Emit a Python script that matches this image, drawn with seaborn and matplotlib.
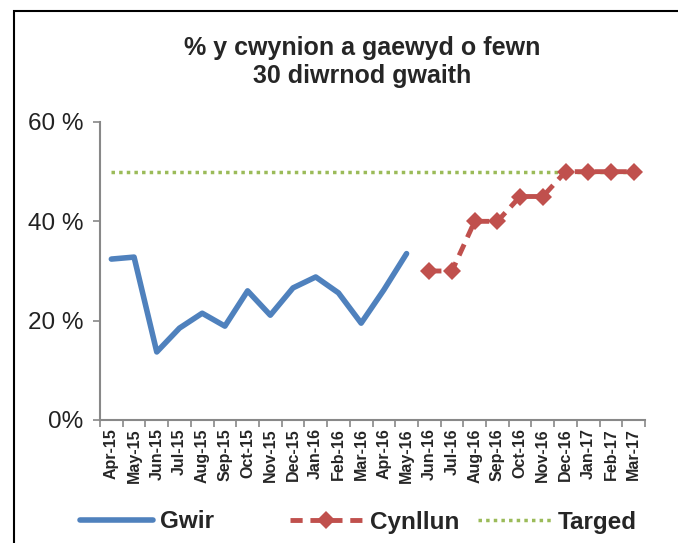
import numpy as np
import pandas as pd
import seaborn as sns
import matplotlib.pyplot as plt
from matplotlib.patches import Rectangle
from matplotlib.ticker import FixedLocator

months = ['Apr-15', 'May-15', 'Jun-15', 'Jul-15', 'Aug-15', 'Sep-15', 'Oct-15',
          'Nov-15', 'Dec-15', 'Jan-16', 'Feb-16', 'Mar-16', 'Apr-16', 'May-16',
          'Jun-16', 'Jul-16', 'Aug-16', 'Sep-16', 'Oct-16', 'Nov-16', 'Dec-16',
          'Jan-17', 'Feb-17', 'Mar-17']
gwir = [0.324, 0.328, 0.137, 0.185, 0.215, 0.189, 0.260, 0.211, 0.266,
        0.288, 0.256, 0.195, 0.262, 0.335]
cynllun = [0.30, 0.30, 0.40, 0.40, 0.45, 0.45, 0.50, 0.50, 0.50, 0.50]
targed = 0.50
ytick_vals = [0, 0.2, 0.4, 0.6]
ytick_labels = ['0%', '20 %', '40 %', '60 %']

sns.set_style('white')
plt.rcParams['font.family'] = ['Liberation Sans', 'DejaVu Sans']

blue = '#4F81BD'
red = '#C0504D'
green = '#9BBB59'

fig = plt.figure(figsize=(6.78, 5.43), dpi=100)
# plot area measured in pixels of the 678x543 picture
ax = fig.add_axes([100 / 678, 1 - 420 / 543, 545 / 678, 298 / 543])

x = np.arange(len(months))
df_g = pd.DataFrame({'x': x[:len(gwir)], 'y': gwir})
df_c = pd.DataFrame({'x': x[len(gwir):], 'y': cynllun})
df_t = pd.DataFrame({'x': x, 'y': [targed] * len(months)})

sns.lineplot(data=df_t, x='x', y='y', ax=ax, color=green, lw=2.5,
             linestyle=(0, (1, 1.2)), label='Targed')
sns.lineplot(data=df_g, x='x', y='y', ax=ax, color=blue, lw=4,
             solid_joinstyle='round', solid_capstyle='round', label='Gwir')
sns.lineplot(data=df_c, x='x', y='y', ax=ax, color=red, lw=3.5,
             linestyle=(0, (2.5, 1.6)), marker='D', markersize=9,
             markeredgewidth=0, label='Cynllun')

ax.set_xlim(-0.5, len(months) - 0.5)
ax.set_ylim(0, 0.6)
ax.set_xticks(x)
ax.set_xticklabels(months, rotation=90, fontsize=11.5, fontweight='bold')
ax.xaxis.set_minor_locator(FixedLocator(np.arange(-0.5, len(months), 1)))
ax.tick_params(axis='x', which='major', length=0, pad=6)
ax.tick_params(axis='x', which='minor', length=5, color='#888888', width=1.2,
               direction='out', bottom=True)
ax.set_yticks(ytick_vals)
ax.set_yticklabels(ytick_labels, fontsize=17.5, color='#222222')
ax.tick_params(axis='y', length=5, color='#888888', width=1.2, direction='out',
               left=True, pad=7)
ax.set_xlabel('')
ax.set_ylabel('')
for s in ['top', 'right']:
    ax.spines[s].set_visible(False)
for s in ['left', 'bottom']:
    ax.spines[s].set_color('#888888')
    ax.spines[s].set_linewidth(1.5)

fig.text(0.534, 1 - 62 / 543, '% y cwynion a gaewyd o fewn\n30 diwrnod gwaith',
         ha='center', va='center', fontsize=18, fontweight='bold',
         linespacing=1.17)

# legend entries placed one by one, like the spreadsheet legend
ax.get_legend().remove()
h, l = ax.get_legend_handles_labels()
legend_left_px = {'Gwir': 80, 'Cynllun': 290, 'Targed': 478}
for name, left in legend_left_px.items():
    i = l.index(name)
    leg = fig.legend([h[i]], [name], loc='center left',
                     bbox_to_anchor=(left / 678, 1 - 522 / 543), frameon=False,
                     handlelength=3.0, handletextpad=0.28, borderpad=0,
                     borderaxespad=0, prop={'weight': 'bold', 'size': 17.5})

fig.patches.append(Rectangle((14 / 678, -0.1), 1.2, 1 - 11 / 543 + 0.1,
                             transform=fig.transFigure, fill=False,
                             edgecolor='black', lw=1.5))

fig.savefig('out.png', dpi=100)
